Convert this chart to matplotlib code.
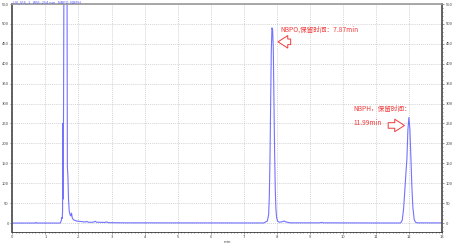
import matplotlib.pyplot as plt
from matplotlib.ticker import MultipleLocator

plt.rcParams['font.family'] = ['Noto Sans CJK SC', 'DejaVu Sans']

# retention time (min) and signal
t_front = [0.0, 0.70, 0.72, 0.74, 1.45, 1.48, 1.50, 1.51, 1.52, 1.525, 1.53, 1.535,
           1.55, 1.57, 1.61, 1.65, 1.665, 1.68, 1.70, 1.72, 1.75, 1.77, 1.79, 1.81,
           1.84, 1.88, 1.95, 2.05, 2.20, 2.25, 2.30, 2.45, 2.50, 2.55, 2.80, 2.85,
           2.90, 3.4]
y_front = [0.0, 0.0, 1.5, 0.0, 0.0, 6.0, 14.0, 12.0, 30.0, 250.0, 200.0, 60.0,
           300.0, 900.0, 1200.0, 800.0, 140.0, 120.0, 60.0, 30.0, 20.0, 18.0, 25.0, 14.0,
           9.0, 7.0, 5.0, 4.0, 2.5, 4.0, 2.0, 2.0, 4.5, 2.0, 1.5, 3.0,
           1.0, 0.5]

t_nbpo = [3.4, 7.60, 7.71, 7.75, 7.77, 7.79, 7.81, 7.83, 7.85, 7.87, 7.89, 7.91,
          7.93, 7.95, 7.97, 7.99, 8.02, 8.07, 8.15, 8.22, 8.28, 8.40]
y_nbpo = [0.5, 0.2, 5.0, 21.0, 66.0, 159.0, 297.0, 432.0, 490.0, 485.0, 440.0, 310.0,
          180.0, 85.0, 35.0, 14.0, 5.0, 2.0, 3.0, 5.0, 2.5, 0.5]

t_nbph = [8.40, 9.30, 9.35, 9.40, 11.70, 11.75, 11.79, 11.83, 11.87, 11.90, 11.93,
          11.96, 11.99, 12.02, 12.05, 12.08, 12.11, 12.15, 12.19, 12.24, 13.0]
y_nbph = [0.5, 0.5, 1.5, 0.5, 0.1, 1.0, 7.5, 36.0, 86.0, 125.0, 161.0,
          234.0, 265.0, 236.0, 165.0, 92.0, 40.0, 9.0, 2.0, 0.5, 0.3]

t_signal = t_front + t_nbpo[1:] + t_nbph[1:]
y_signal = y_front + y_nbpo[1:] + y_nbph[1:]

fig = plt.figure(figsize=(4.55, 2.43), dpi=100)
ax = fig.add_axes([12.3 / 455, 11 / 243, 430 / 455, 228 / 243])

ax.plot(t_signal, y_signal, color='#5a5aff', lw=0.8, alpha=0.85)

ax.set_xlim(0, 13)
ax.set_ylim(-22.5, 550)
ax.xaxis.set_major_locator(MultipleLocator(1))
ax.xaxis.set_minor_locator(MultipleLocator(0.1))
ax.yaxis.set_major_locator(MultipleLocator(50))
ax.yaxis.set_minor_locator(MultipleLocator(10))
ax.tick_params(which='both', labelsize=3, colors='#444444', length=1.5, width=0.4, pad=1,
               right=True, labelright=True)
ax.tick_params(which='minor', length=1)
ax.grid(True, which='major', color='#c4c4c4', ls=(0, (1.5, 1.5)), lw=0.5)
ax.set_xlabel('min', fontsize=3, color='#444444', labelpad=0.5)

for side, c, w in [('left', '#555555', 1.3), ('right', '#555555', 1.3),
                   ('top', '#999999', 1.2), ('bottom', '#333333', 0.6)]:
    ax.spines[side].set_color(c)
    ax.spines[side].set_linewidth(w)

red = '#f03a3a'
ax.text(8.10, 485, 'NBPO,保留时间：7.87min', color=red, fontsize=4.8, va='center')
ax.annotate('', xy=(7.95, 455), xytext=(8.50, 455),
            arrowprops=dict(arrowstyle='simple,head_width=0.9,head_length=0.7,tail_width=0.4',
                            fc='white', ec=red, lw=0.7))

ax.text(10.30, 287, 'NBPH，保留时间：', color=red, fontsize=4.8, va='center')
ax.text(10.30, 250, '11.99min', color=red, fontsize=4.8, va='center')
ax.annotate('', xy=(11.94, 245), xytext=(11.28, 245),
            arrowprops=dict(arrowstyle='simple,head_width=0.9,head_length=0.7,tail_width=0.4',
                            fc='white', ec=red, lw=0.7))

fig.text(13 / 455, 0.999, 'UV_VIS_1   WVL:254 nm   NBPO  NBPH', color='#5a5aff',
         fontsize=2.8, va='top')

fig.savefig('out.png', dpi=100)
